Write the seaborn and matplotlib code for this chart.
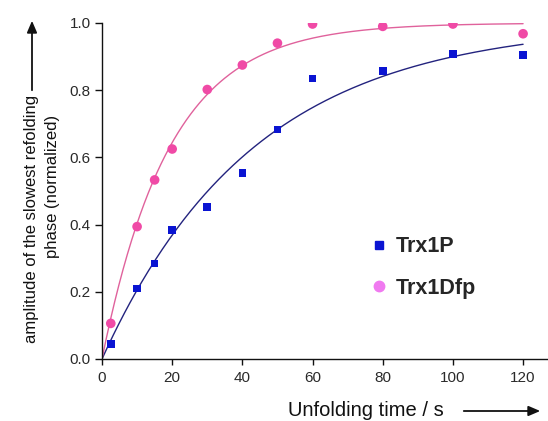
import numpy as np
import pandas as pd
import matplotlib
matplotlib.use("Agg")
import matplotlib.pyplot as plt
import seaborn as sns
from matplotlib.lines import Line2D
from matplotlib.patches import FancyArrowPatch

# ---- data ----
t_p = [2.5, 10, 15, 20, 30, 40, 50, 60, 80, 100, 120]
amp_p = [0.044, 0.21, 0.284, 0.384, 0.452, 0.553, 0.683, 0.835, 0.857, 0.908, 0.904]
t_d = [2.5, 10, 15, 20, 30, 40, 50, 60, 80, 100, 120]
amp_d = [0.106, 0.394, 0.533, 0.625, 0.802, 0.875, 0.94, 0.997, 0.99, 0.997, 0.968]
labels = ["Trx1P", "Trx1Dfp"]
x_ticks = [0, 20, 40, 60, 80, 100, 120]
y_ticks = [0.0, 0.2, 0.4, 0.6, 0.8, 1.0]


def fit_rate(t, y):
    t = np.asarray(t, float)
    y = np.asarray(y, float)
    ks = np.linspace(0.001, 0.2, 4000)
    err = [np.sum((y - (1 - np.exp(-k * t))) ** 2) for k in ks]
    return ks[int(np.argmin(err))]


k_p = fit_rate(t_p, amp_p)
k_d = fit_rate(t_d, amp_d)
tt = np.linspace(0, 120, 300)
fit = pd.DataFrame({"t": tt,
                    "p": 1 - np.exp(-k_p * tt),
                    "d": 1 - np.exp(-k_d * tt)})
df_p = pd.DataFrame({"t": t_p, "a": amp_p})
df_d = pd.DataFrame({"t": t_d, "a": amp_d})

sns.set_style("white")
plt.rcParams["font.family"] = ["Liberation Sans", "DejaVu Sans"]

fig = plt.figure(figsize=(5.48, 4.21), dpi=100)
ax = fig.add_axes([102 / 548, 1 - 359 / 421, 1 - 102 / 548, 336 / 421])

blue_m, blue_l = "#0a14d2", "#23237e"
pink_m, pink_l = "#f04aa6", "#e0629c"

sns.lineplot(data=fit, x="t", y="p", ax=ax, color=blue_l, lw=1.0)
sns.lineplot(data=fit, x="t", y="d", ax=ax, color=pink_l, lw=1.0)
sns.scatterplot(data=df_p, x="t", y="a", ax=ax, marker="s", s=30,
                color=blue_m, edgecolor="none", zorder=5)
sns.scatterplot(data=df_d, x="t", y="a", ax=ax, marker="o", s=48,
                color=pink_m, edgecolor="none", zorder=5)

ax.set_xlim(0, 127.1)
ax.set_ylim(0, 1.0)
ax.set_xticks(x_ticks)
ax.set_yticks(y_ticks)
ax.set_xticklabels([str(v) for v in x_ticks])
ax.set_yticklabels([f"{v:.1f}" for v in y_ticks])
ax.set_xlabel("")
ax.set_ylabel("")
for s in ["top", "right"]:
    ax.spines[s].set_visible(False)
for s in ["left", "bottom"]:
    ax.spines[s].set_color("#111111")
    ax.spines[s].set_linewidth(1.0)
ax.tick_params(axis="y", direction="out", length=5, width=1.0,
               color="#111111", labelsize=11, labelcolor="#2a2a2a", pad=3)
ax.tick_params(axis="x", direction="out", length=4, width=1.0,
               color="#111111", labelsize=11, labelcolor="#2a2a2a", pad=5)
ax.tick_params(axis="both", which="both", bottom=True, left=True)

# legend
handles = [Line2D([], [], marker="s", ls="none", color=blue_m, ms=5.5),
           Line2D([], [], marker="o", ls="none", color="#f07af0", ms=7.5)]
leg = ax.legend(handles, labels, loc="center left",
                bbox_to_anchor=(0.548, 0.272), frameon=False,
                prop={"size": 15.5, "weight": "bold"},
                handletextpad=0.2, labelspacing=0.95, handlelength=1.2)

# y label with arrow
fig.text(32 / 548, 1 - 219 / 421, "amplitude of the slowest refolding",
         rotation=90, ha="center", va="center", fontsize=12, color="#111111")
fig.text(53 / 548, 1 - 186 / 421, "phase (normalized)",
         rotation=90, ha="center", va="center", fontsize=12, color="#111111")
fig.add_artist(FancyArrowPatch(
    (32 / 548, 1 - 93 / 421), (32 / 548, 1 - 18 / 421),
    transform=fig.transFigure, arrowstyle="-|>,head_length=7,head_width=3",
    color="#111111", lw=1.3, mutation_scale=1))

# x label with arrow
fig.text(366 / 548, 1 - 410 / 421, "Unfolding time / s",
         ha="center", va="center", fontsize=14.5, color="#111111")
fig.add_artist(FancyArrowPatch(
    (461 / 548, 1 - 411 / 421), (543 / 548, 1 - 411 / 421),
    transform=fig.transFigure, arrowstyle="-|>,head_length=7,head_width=3",
    color="#111111", lw=1.3, mutation_scale=1))

fig.savefig("out.png", dpi=100)
